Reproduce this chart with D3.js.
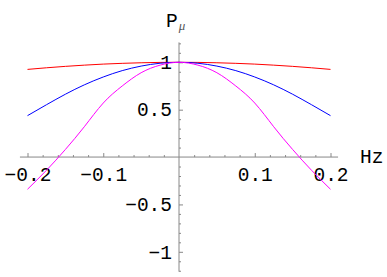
<!DOCTYPE html>
<html lang="en">
<head>
<meta charset="UTF-8">
<script src="https://d3js.org/d3.v7.min.js"></script>
<style>
  body { margin: 0; background: #fff; }
  svg { display: block; }
  .tick text { font-family: "Liberation Mono", monospace; font-size: 19.5px; fill: #000; }
  .tick line { stroke: #888; }
</style>
</head>
<body>
<div id="chart"></div>
<script>
// values
const xs = [-0.2, -0.175, -0.15, -0.125, -0.1, -0.075, -0.05, -0.025, 0,
            0.025, 0.05, 0.075, 0.1, 0.125, 0.15, 0.175, 0.2];
const redVals = [0.925, 0.942, 0.957, 0.970, 0.981, 0.989, 0.995, 0.999, 1,
                 0.999, 0.995, 0.989, 0.981, 0.970, 0.957, 0.942, 0.925];
const blueVals = [0.437, 0.552, 0.663, 0.762, 0.845, 0.912, 0.960, 0.990, 1,
                  0.990, 0.960, 0.912, 0.845, 0.762, 0.663, 0.552, 0.437];
const magentaVals = [-0.34, -0.14, 0.08, 0.32, 0.57, 0.75, 0.89, 0.97, 1,
                     0.97, 0.89, 0.75, 0.57, 0.32, 0.08, -0.14, -0.34];
const xMajor = [-0.2, -0.1, 0.1, 0.2];
const yMajor = [-1, -0.5, 0.5, 1];
const xMinor = d3.range(-20, 21, 2).filter(v => v % 10 !== 0).map(v => v / 100);
const yMinor = d3.range(-12, 13, 1).filter(v => v % 5 !== 0).map(v => v / 10);

const W = 387, H = 277;
const svg = d3.select('#chart').append('svg')
    .attr('width', W)
    .attr('height', H);

const x = d3.scaleLinear().domain([-0.2, 0.2]).range([27.5, 330.5]);
const y = d3.scaleLinear().domain([-1, 1]).range([251.8, 62.3]);
const fmt = d3.format('~g');

// axis lines
svg.append('line')
    .attr('x1', x(-0.21)).attr('x2', x(0.21))
    .attr('y1', y(0)).attr('y2', y(0))
    .attr('stroke', '#888');
svg.append('line')
    .attr('x1', x(0)).attr('x2', x(0))
    .attr('y1', y(1.21)).attr('y2', y(-1.21))
    .attr('stroke', '#888');

// x ticks point up, labels below
const gx = svg.append('g').attr('transform', 'translate(0,' + y(0) + ')');
gx.append('g')
    .call(d3.axisBottom(x).tickValues(xMinor).tickSize(-2).tickFormat(''))
    .call(g => g.select('.domain').remove());
gx.append('g')
    .call(d3.axisBottom(x).tickValues(xMajor).tickSize(-4).tickPadding(10).tickFormat(fmt))
    .call(g => g.select('.domain').remove());

// y ticks point right, labels left
const gy = svg.append('g').attr('transform', 'translate(' + x(0) + ',0)');
gy.append('g')
    .call(d3.axisLeft(y).tickValues(yMinor).tickSize(-2).tickFormat(''))
    .call(g => g.select('.domain').remove());
gy.append('g')
    .call(d3.axisLeft(y).tickValues(yMajor).tickSize(-4).tickPadding(7).tickFormat(fmt))
    .call(g => g.select('.domain').remove());

// curves
const series = [
    { vals: redVals, color: '#ff0000' },
    { vals: blueVals, color: '#0000ff' },
    { vals: magentaVals, color: '#ff00ff' }
];
const line = d3.line()
    .x((d, i) => x(xs[i]))
    .y(d => y(d))
    .curve(d3.curveNatural);
svg.selectAll('.curve')
    .data(series)
    .enter().append('path')
    .attr('class', 'curve')
    .attr('fill', 'none')
    .attr('stroke', d => d.color)
    .attr('stroke-width', 1)
    .attr('d', d => line(d.vals));

// axis titles
const title = svg.append('text')
    .attr('x', 166)
    .attr('y', 26.5)
    .attr('font-family', 'Liberation Mono, monospace')
    .attr('font-size', '19.5px');
title.append('tspan').text('P');
title.append('tspan')
    .attr('dy', 3)
    .attr('dx', 1)
    .attr('font-family', 'Liberation Serif, serif')
    .attr('font-style', 'italic')
    .attr('font-size', '13px')
    .attr('fill', '#555')
    .text('\u03bc');

svg.append('text')
    .attr('x', 360)
    .attr('y', 163)
    .attr('font-family', 'Liberation Mono, monospace')
    .attr('font-size', '19.5px')
    .text('Hz');
</script>
</body>
</html>
